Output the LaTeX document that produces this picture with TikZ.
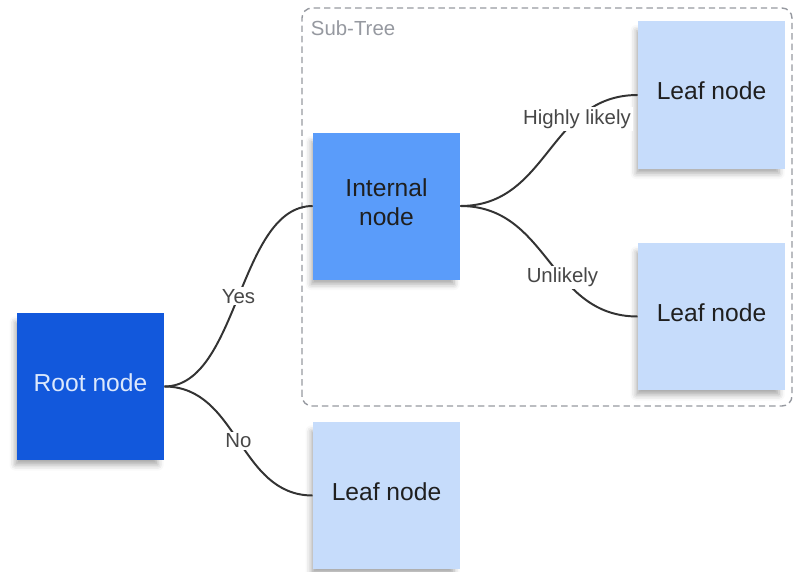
\documentclass[tikz,border=0pt]{standalone}
\usepackage{fontspec}
\setmainfont{Liberation Sans}
\usetikzlibrary{shadows.blur}
\definecolor{rootblue}{RGB}{18,88,220}
\definecolor{innerblue}{RGB}{90,156,250}
\definecolor{leafblue}{RGB}{198,220,251}
\definecolor{rootlabel}{RGB}{220,232,252}
\definecolor{framegray}{RGB}{150,153,160}
\begin{document}
\begin{tikzpicture}[
    treenode/.style={minimum size=3.675cm, inner sep=0pt, align=center, text=black!88,
      text depth=5.6pt, font=\fontsize{17.5}{20}\selectfont,
      blur shadow={shadow xshift=-0.1cm, shadow yshift=-0.18cm, shadow blur radius=0.15cm,
        shadow opacity=35, shadow scale=0.97}},
    branch/.style={line width=1.4pt, draw=black!80},
    choice/.style={fill=white, text=black!72, inner sep=1.5pt, font=\fontsize{14.5}{17}\selectfont}]
  \useasboundingbox (0,0) rectangle (19.825,14.275);
  \draw[framegray, line width=1pt, dash pattern=on 0.16cm off 0.1cm, rounded corners=0.25cm]
    (7.55,4.125) rectangle (19.8,14.075);
  \node[anchor=west, text=framegray, font=\fontsize{14.5}{17}\selectfont] (subtree) at (7.65,13.575) {Sub-Tree};
  \node[treenode, fill=rootblue, text=rootlabel] (root) at (2.2625,4.6125) {Root node};
  \node[treenode, fill=innerblue] (internal) at (9.6625,9.125) {Internal\\node};
  \node[treenode, fill=leafblue] (leafhigh) at (17.7875,11.9) {Leaf node};
  \node[treenode, fill=leafblue] (leaflow) at (17.7875,6.3625) {Leaf node};
  \node[treenode, fill=leafblue] (leafno) at (9.6625,1.8875) {Leaf node};
  \draw[branch] (root.east) .. controls +(1.86,0) and +(-1.86,0) .. (internal.west) node[choice, pos=0.5] {Yes};
  \draw[branch] (root.east) .. controls +(1.86,0) and +(-1.86,0) .. (leafno.west) node[choice, pos=0.5] {No};
  \draw[branch] (internal.east) .. controls +(2.225,0) and +(-2.225,0) .. (leafhigh.west) node[choice, pos=0.7] {Highly likely};
  \draw[branch] (internal.east) .. controls +(2.225,0) and +(-2.225,0) .. (leaflow.west) node[choice, pos=0.6] {Unlikely};
\end{tikzpicture}
\end{document}
